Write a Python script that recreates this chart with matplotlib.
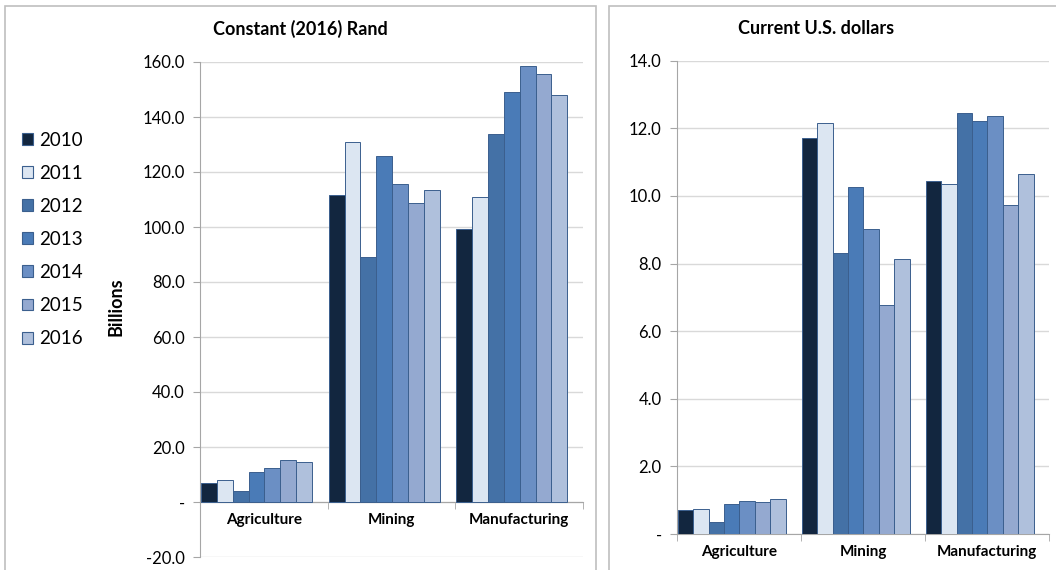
import numpy as np
import matplotlib
matplotlib.use("Agg")
import matplotlib.pyplot as plt
from matplotlib.patches import Rectangle, Patch
from matplotlib.ticker import FuncFormatter, MultipleLocator, FixedLocator

plt.rcParams['font.family'] = ['Lato', 'DejaVu Sans']

sectors = ["Agriculture", "Mining", "Manufacturing"]
years = ["2010", "2011", "2012", "2013", "2014", "2015", "2016"]

# Constant (2016) Rand, billions: one list per year, values per sector
rand_vals = [
    [6.9, 111.6, 99.2],
    [8.0, 130.9, 110.8],
    [3.9, 89.1, 133.7],
    [10.9, 125.9, 149.0],
    [12.4, 115.8, 158.4],
    [15.2, 108.8, 155.6],
    [14.4, 113.3, 148.1],
]
# Current U.S. dollars, billions
usd_vals = [
    [0.71, 11.70, 10.44],
    [0.73, 12.17, 10.34],
    [0.36, 8.30, 12.46],
    [0.89, 10.27, 12.22],
    [0.97, 9.01, 12.35],
    [0.94, 6.76, 9.72],
    [1.04, 8.14, 10.66],
]

colors = ["#12263f", "#dce6f2", "#4471a6", "#4a7bb7", "#6b8fc4", "#94a9d0", "#afc0dc"]
edge = "#3b5f8e"
grid_c = "#d9d9d9"
axis_c = "#a6a6a6"

W, H = 1056, 570
fig = plt.figure(figsize=(W / 100, H / 100), dpi=100)


def fx(px):
    return px / W


def fy(py):
    return 1 - py / H


# panel borders
fig.add_artist(Rectangle((fx(5), -0.1), fx(591), fy(6) + 0.1, transform=fig.transFigure,
                         fill=False, edgecolor="#bfbfbf", lw=1.2))
fig.add_artist(Rectangle((fx(609), -0.1), 0.5, fy(6) + 0.1, transform=fig.transFigure,
                         fill=False, edgecolor="#bfbfbf", lw=1.2))


def fmt(v, pos):
    if abs(v) < 1e-9:
        return "-"
    return f"{v:.1f}"


def draw(ax, data, ylo, yhi, step):
    x = np.arange(len(sectors))
    w = 0.124
    off = 0.008
    for j, yr in enumerate(years):
        ax.bar(x - 0.5 + off + j * w, data[j], width=w, align="edge",
               color=colors[j], edgecolor=edge, lw=0.7, label=yr, zorder=3)
    ax.set_xlim(-0.5, len(sectors) - 0.5)
    ax.set_ylim(ylo, yhi)
    ax.yaxis.set_major_locator(MultipleLocator(step))
    ax.yaxis.set_major_formatter(FuncFormatter(fmt))
    ax.grid(axis="y", color=grid_c, lw=1, zorder=0)
    for s in ["top", "right"]:
        ax.spines[s].set_visible(False)
    ax.spines["left"].set_color(axis_c)
    ax.spines["bottom"].set_color(axis_c)
    ax.spines["bottom"].set_position(("data", 0))
    ax.set_xticks(x)
    ax.set_xticklabels(sectors, fontweight="bold", fontsize=11)
    ax.xaxis.set_minor_locator(FixedLocator(np.arange(len(sectors) + 1) - 0.5))
    ax.tick_params(axis="x", which="major", length=0, pad=8)
    ax.tick_params(axis="x", which="minor", length=5, color=axis_c, direction="out")
    ax.tick_params(axis="y", length=5, color=axis_c, labelsize=12, pad=6)


ax1 = fig.add_axes([fx(200), fy(557), fx(383), fy(62) - fy(557)])
draw(ax1, rand_vals, -20, 160, 20)
ax2 = fig.add_axes([fx(677), fy(534), fx(372), fy(60.7) - fy(534)])
draw(ax2, usd_vals, 0, 14, 2)

fig.text(fx(300), fy(29), "Constant (2016) Rand", ha="center", va="center",
         fontweight="bold", fontsize=13)
fig.text(fx(816), fy(29), "Current U.S. dollars", ha="center", va="center",
         fontweight="bold", fontsize=13)
fig.text(fx(116), fy(307), "Billions", rotation=90, ha="center", va="center",
         fontweight="bold", fontsize=13)

handles = [Patch(facecolor=colors[j], edgecolor=edge, lw=0.8) for j in range(len(years))]
fig.legend(handles, years, loc="upper left", bbox_to_anchor=(fx(14), fy(124)),
           frameon=False, fontsize=13.5, handlelength=0.6, handleheight=0.6,
           handletextpad=0.35, labelspacing=0.86, borderaxespad=0)

fig.savefig("out.png", dpi=100)
